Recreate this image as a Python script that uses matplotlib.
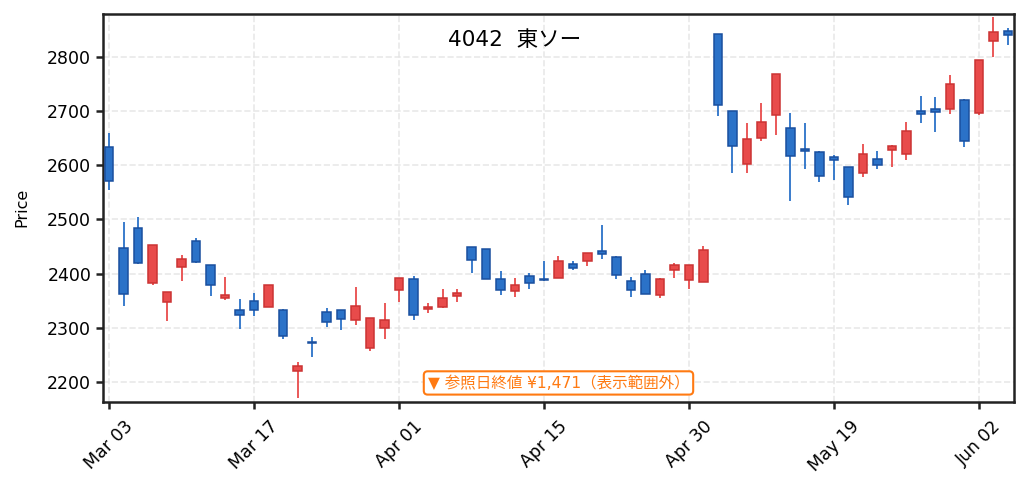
import numpy as np
import matplotlib
matplotlib.use("Agg")
import matplotlib.pyplot as plt

plt.rcParams['font.family'] = ['DejaVu Sans', 'Noto Sans CJK JP']

# 日足データ（チャートから読み取り）
opens = [2634, 2447, 2484, 2383, 2348, 2413, 2460, 2416, 2354, 2333,
         2349, 2339, 2332, 2221, 2273, 2329, 2332, 2314, 2262, 2299,
         2369, 2390, 2334, 2339, 2358, 2449, 2445, 2390, 2367, 2396,
         2390, 2391, 2417, 2424, 2441, 2431, 2386, 2399, 2360, 2406,
         2389, 2385, 2842, 2700, 2603, 2651, 2692, 2669, 2630, 2624,
         2615, 2597, 2585, 2611, 2629, 2620, 2700, 2704, 2703, 2720,
         2697, 2829, 2848]
highs = [2659, 2495, 2504, 2453, 2366, 2434, 2466, 2416, 2393, 2353,
         2364, 2379, 2335, 2236, 2282, 2336, 2332, 2375, 2318, 2345,
         2392, 2396, 2346, 2372, 2372, 2449, 2445, 2404, 2391, 2401,
         2423, 2433, 2423, 2438, 2489, 2433, 2393, 2406, 2391, 2419,
         2415, 2450, 2842, 2700, 2677, 2714, 2768, 2697, 2677, 2627,
         2618, 2597, 2639, 2627, 2637, 2680, 2728, 2725, 2766, 2723,
         2794, 2873, 2854]
lows = [2555, 2340, 2418, 2379, 2313, 2386, 2420, 2359, 2352, 2298,
        2322, 2339, 2279, 2170, 2246, 2301, 2296, 2305, 2257, 2279,
        2348, 2314, 2327, 2336, 2348, 2401, 2390, 2361, 2357, 2372,
        2387, 2391, 2407, 2414, 2426, 2390, 2357, 2363, 2355, 2391,
        2371, 2385, 2691, 2585, 2585, 2645, 2656, 2534, 2593, 2569,
        2573, 2527, 2578, 2593, 2597, 2610, 2678, 2661, 2694, 2634,
        2693, 2800, 2822]
closes = [2570, 2362, 2419, 2453, 2366, 2427, 2421, 2378, 2360, 2324,
          2332, 2379, 2284, 2230, 2271, 2311, 2317, 2340, 2318, 2314,
          2392, 2324, 2339, 2355, 2365, 2425, 2390, 2369, 2379, 2382,
          2388, 2423, 2410, 2438, 2436, 2398, 2369, 2363, 2390, 2416,
          2415, 2444, 2712, 2635, 2648, 2680, 2768, 2617, 2626, 2580,
          2609, 2541, 2621, 2600, 2635, 2663, 2694, 2699, 2750, 2644,
          2794, 2846, 2840]

tick_pos = [0, 10, 20, 30, 40, 50, 60]
tick_labels = ['Mar 03', 'Mar 17', 'Apr 01', 'Apr 15', 'Apr 30', 'May 19', 'Jun 02']

title = '4042  東ソー'
ref_note = '▼ 参照日終値 ¥1,471（表示範囲外）'

o = np.array(opens)
h = np.array(highs)
l = np.array(lows)
c = np.array(closes)
x = np.arange(len(o))
up = c >= o

fig = plt.figure(figsize=(10.29, 4.91), dpi=100)
ax = fig.add_axes([0.1001, 0.1813, 0.8853, 0.7912])

# 色
up_face, up_edge = '#e84b4b', '#cc3333'
dn_face, dn_edge = '#2b72c8', '#1a4f9f'

# ヒゲ
ax.vlines(x[up], l[up], h[up], color=up_face, linewidth=1.3, zorder=2)
ax.vlines(x[~up], l[~up], h[~up], color=dn_face, linewidth=1.3, zorder=2)

# 実体
body_lo = np.minimum(o, c)
body_h = np.abs(c - o)
ax.bar(x[up], body_h[up], bottom=body_lo[up], width=0.6,
       color=up_face, edgecolor=up_edge, linewidth=1.1, zorder=3)
ax.bar(x[~up], body_h[~up], bottom=body_lo[~up], width=0.6,
       color=dn_face, edgecolor=dn_edge, linewidth=1.1, zorder=3)

# 軸
ax.set_xlim(-0.42, len(x) - 0.58)
pad = (h.max() - l.min()) * 0.01
ax.set_ylim(l.min() - pad, h.max() + pad)
ax.set_yticks(np.arange(2200, 2801, 100))
ax.set_xticks(tick_pos)
ax.set_xticklabels(tick_labels, rotation=45)
ax.tick_params(axis='both', labelsize=12.5, length=5, width=1.8, color='#222222')
ax.tick_params(axis='x', pad=6)
ax.set_ylabel('Price', fontsize=11.5, labelpad=13)

ax.grid(True, color='#e3e3e3', linestyle='--', linewidth=1.2, alpha=0.8, zorder=0)
ax.set_axisbelow(True)
for s in ax.spines.values():
    s.set_linewidth(1.8)
    s.set_color('#222222')

# タイトル
fig.text(0.5, 1 - 40 / 491, title, ha='center', va='center', fontsize=15.5)

# 参照日終値メモ
ax.text(0.5, 0.049, ref_note, transform=ax.transAxes, ha='center', va='center',
        fontsize=11.2, color='#ff7a12', zorder=5,
        bbox=dict(boxstyle='round,pad=0.25', fc='white', ec='#ff7a12', lw=1.5))

fig.savefig('out.png', dpi=100)
